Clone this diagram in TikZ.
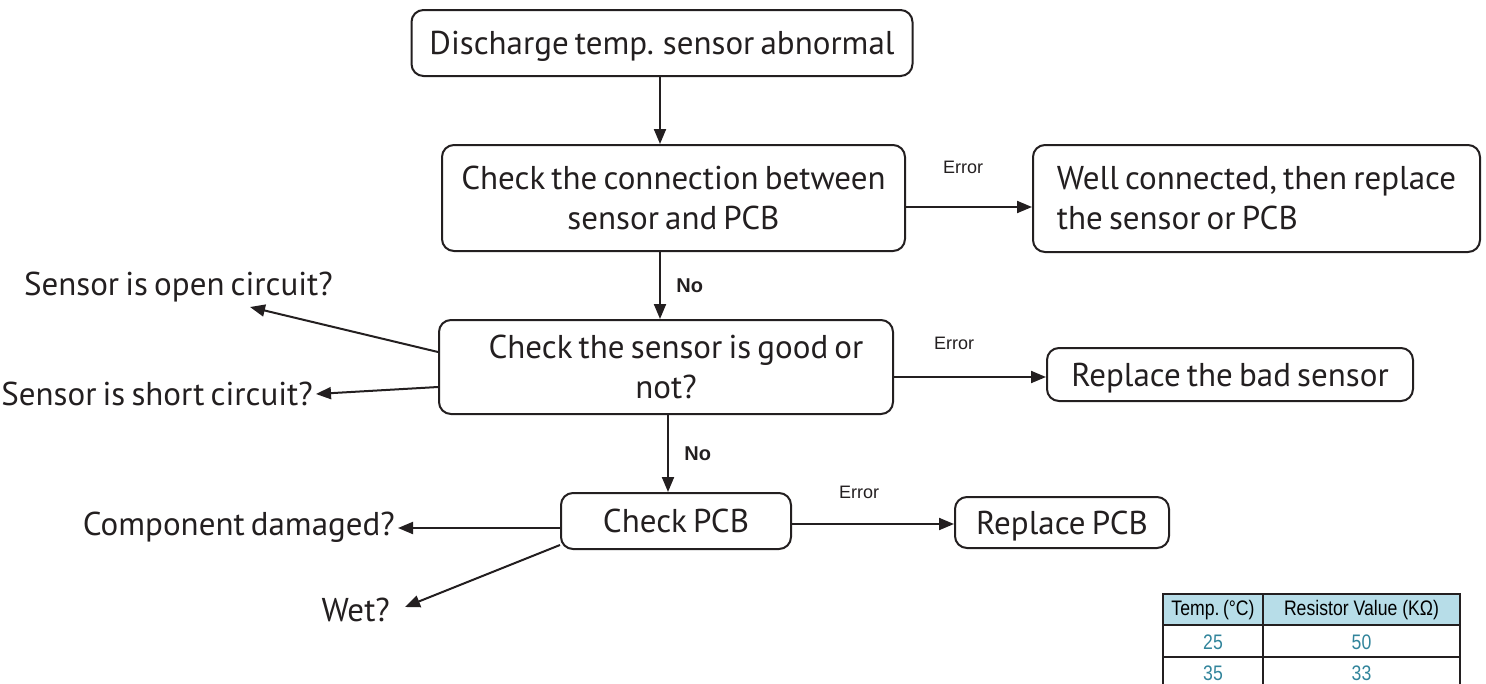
\documentclass[tikz,border=0pt]{standalone}
\usepackage{fontspec}
\setmainfont[WordSpace=0.7]{PT Sans}
\newfontfamily\arialfont{Liberation Sans}
\newfontfamily\narrowfont[FakeStretch=0.84]{Liberation Sans}
\usetikzlibrary{shapes,arrows.meta}
\definecolor{ink}{RGB}{35,31,32}
\definecolor{tablehead}{RGB}{183,221,232}
\definecolor{tableval}{RGB}{49,132,155}
\newcommand{\tcell}[4]{node[cell,#1](#2) at #3 {#4}}

\begin{document}
\begin{tikzpicture}[
      x=1pt,y=-1pt,
      box/.style={rectangle,rounded corners=12pt,line width=2pt,draw=ink,inner sep=0pt,
        font=\fontsize{33}{40}\selectfont,text=ink,align=center},
      oneline/.style={box,text depth=0pt},
      pointer/.style={line width=2pt,-{Triangle[length=15pt,width=12pt]},draw=ink},
      question/.style={font=\fontsize{33}{40}\selectfont,text=ink,anchor=east,inner sep=0pt},
      errlabel/.style={font=\arialfont\fontsize{18}{20}\selectfont,text=ink},
      nolabel/.style={font=\arialfont\bfseries\fontsize{20}{22}\selectfont,text=ink},
      cell/.style={font=\narrowfont\fontsize{21}{22}\selectfont,inner sep=0pt}
      ]
      \useasboundingbox (0,0) rectangle (1486,683);
      % main column
      \node[oneline,minimum width=501pt,minimum height=66pt] (start) at (662,43) {Discharge temp. sensor abnormal};
      \node[box,minimum width=463pt,minimum height=106pt] (conn) at (673.5,198) {Check the connection between\\sensor and PCB};
      \node[box,minimum width=454pt,minimum height=94pt] (sensor) at (666,367) {\hspace*{20pt}Check the sensor is good or\\not?};
      \node[oneline,minimum width=230pt,minimum height=56pt] (pcb) at (676,521) {Check PCB};
      % right column
      \node[box,align=left,minimum width=447pt,minimum height=107pt] (well) at (1256.5,198.5) {Well connected, then replace\\the sensor or PCB};
      \node[oneline,minimum width=366pt,minimum height=53pt] (badsensor) at (1230,374.5) {Replace the bad sensor};
      \node[oneline,minimum width=214pt,minimum height=51pt] (replpcb) at (1062,522.5) {Replace PCB};
      % left questions
      \node[question] (open) at (333,287) {Sensor is open circuit?};
      \node[question] (short) at (313,394) {Sensor is short circuit?};
      \node[question] (damaged) at (395,527) {Component damaged?};
      \node[question] (wet) at (390,610) {Wet?};

      \draw[pointer] (start.south -| 660,0) -- (conn.north -| 660,0);
      \draw[pointer] (conn.south -| 660,0) -- (sensor.north -| 660,0) node[nolabel,midway,right=12pt] {No};
      \draw[pointer] (sensor.south -| 668,0) -- (pcb.north -| 668,0) node[nolabel,midway,right=12pt] {No};
      \draw[pointer] (conn.east |- 0,207) -- (well.west |- 0,207);
      \draw[pointer] (sensor.east |- 0,377) -- (badsensor.west |- 0,377);
      \draw[pointer] (pcb.east |- 0,524) -- (replpcb.west |- 0,524);
      \node[errlabel] at (963,167) {Error};
      \node[errlabel] at (954,343) {Error};
      \node[errlabel] at (859,492) {Error};
      \draw[pointer] (sensor.west |- 0,352) -- (250,307);
      \draw[pointer] (sensor.west |- 0,387) -- ([xshift=3pt]short.east);
      \draw[pointer] (pcb.west |- 0,528) -- ([xshift=3pt]damaged.east |- 0,528);
      \draw[pointer] (pcb.west |- 0,545) -- (405,607);

      % resistor table
      \fill[tablehead] (1163,594) rectangle (1460,625);
      \draw[ink,line width=1.3pt] (1163,594) rectangle (1460,690);
      \draw[ink,line width=1.3pt] (1263,594) -- (1263,690);
      \foreach \y in {625,657} \draw[ink,line width=1.3pt] (1163,\y) -- (1460,\y);
      \path \tcell{}{h1}{(1213,610)}{Temp.\,(°C)}
            \tcell{}{h2}{(1361.5,610)}{Resistor Value (KΩ)}
            \tcell{text=tableval}{a1}{(1213,642)}{25}
            \tcell{text=tableval}{a2}{(1361.5,642)}{50}
            \tcell{text=tableval}{b1}{(1213,673)}{35}
            \tcell{text=tableval}{b2}{(1361.5,673)}{33};
\end{tikzpicture}
\end{document}
